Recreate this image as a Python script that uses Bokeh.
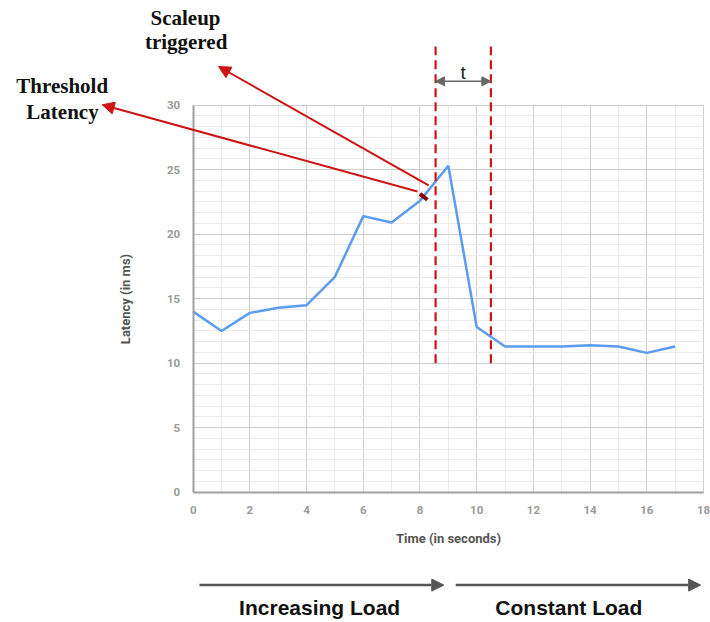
from bokeh.plotting import figure
from bokeh.models import (Range1d, SingleIntervalTicker, Arrow, NormalHead, Label)
from bokeh.embed import file_html
from bokeh.resources import INLINE

# Latency measured once per second while the load is ramped up, then held constant
time_s = list(range(18))
latency_ms = [14.0, 12.5, 13.9, 14.3, 14.5, 16.7, 21.4, 20.9, 22.6,
              25.3, 12.8, 11.3, 11.3, 11.3, 11.4, 11.3, 10.8, 11.3]

# Scale-up window (seconds) marked with dashed guides
scaleup_start = 8.55
scaleup_end = 10.5

x_bounds = (0, 18)
y_bounds = (0, 30)
x_ticks_step = 2
y_ticks_step = 5

RED = "#cc1414"
GREY = "#555555"

# The frame fills the whole canvas so the call-outs around the chart can be drawn
# in data space; the axes are pinned at 0 and bounded to the chart area.
p = figure(width=710, height=622, output_backend="svg", toolbar_location=None,
           x_range=Range1d(-6.797, 18.247), y_range=Range1d(-10.10, 38.116),
           min_border=0)
p.background_fill_color = "white"
p.border_fill_color = "white"
p.outline_line_color = None

# Axes
p.xaxis.ticker = SingleIntervalTicker(interval=x_ticks_step, num_minor_ticks=2)
p.yaxis.ticker = SingleIntervalTicker(interval=y_ticks_step, num_minor_ticks=6)
p.xaxis.fixed_location = 0
p.yaxis.fixed_location = 0
p.xaxis.bounds = x_bounds
p.yaxis.bounds = y_bounds
for ax in (p.xaxis[0], p.yaxis[0]):
    ax.axis_line_color = "#a0a0a0"
    ax.axis_line_width = 2
    ax.major_tick_line_color = None
    ax.minor_tick_line_color = None
    ax.major_label_text_font = "Roboto"
    ax.major_label_text_font_style = "bold"
    ax.major_label_text_font_size = "11.5px"
    ax.major_label_text_color = "#999999"
    ax.axis_label_text_font = "Roboto"
    ax.axis_label_text_font_style = "bold"
    ax.axis_label_text_font_size = "13px"
    ax.axis_label_text_color = "#555555"
p.xaxis.axis_label = "Time (in seconds)"
p.yaxis.axis_label = "Latency (in ms)"
p.xaxis.major_label_standoff = 8
p.yaxis.major_label_standoff = 7
p.xaxis.axis_label_standoff = 13
p.yaxis.axis_label_standoff = 31

# Grid: darker majors, faint minors, limited to the chart area
p.xgrid.bounds = x_bounds
p.xgrid.cross_bounds = y_bounds
p.ygrid.bounds = y_bounds
p.ygrid.cross_bounds = x_bounds
p.xgrid.grid_line_color = "#d0d0d0"
p.ygrid.grid_line_color = "#cccccc"
p.xgrid.minor_grid_line_color = "#ebebeb"
p.ygrid.minor_grid_line_color = "#ebebeb"

# Latency series
p.line(time_s, latency_ms, line_color="#5b9cf0", line_width=2.5)

# Scale-up window guides and the interval marker "t"
for xv in (scaleup_start, scaleup_end):
    p.add_layout(Arrow(end=None, x_start=xv, y_start=10, x_end=xv, y_end=34.55,
                       line_color=RED, line_width=2.2, line_dash="9 5"))
p.add_layout(Arrow(x_start=scaleup_start, y_start=31.85, x_end=scaleup_end, y_end=31.85,
                   start=NormalHead(size=9, fill_color="#666666", line_color="#666666"),
                   end=NormalHead(size=9, fill_color="#666666", line_color="#666666"),
                   line_color="#666666", line_width=1.5))
p.add_layout(Label(x=(scaleup_start + scaleup_end) / 2, y=32.55, text="t",
                   text_align="center", text_baseline="middle",
                   text_font="Liberation Sans", text_font_size="19px", text_color="#222222"))

# Call-out arrows
p.add_layout(Arrow(x_start=8.305, y_start=23.78, x_end=0.893, y_end=33.0,
                   end=NormalHead(size=12, fill_color=RED, line_color=RED),
                   line_color=RED, line_width=2))
p.add_layout(Arrow(x_start=7.91, y_start=23.31, x_end=-3.21, y_end=30.03,
                   end=NormalHead(size=12, fill_color=RED, line_color=RED),
                   line_color=RED, line_width=2))
p.segment(x0=[8.0], y0=[23.13], x1=[8.26], y1=[22.67], line_color="#8b0000", line_width=4)

serif = dict(text_font="Liberation Serif", text_font_style="bold",
             text_font_size="21px", text_color="#111111", text_align="center")
p.add_layout(Label(x=-0.27, y=35.85, text="Scaleup", **serif))
p.add_layout(Label(x=-0.25, y=33.95, text="triggered", **serif))
p.add_layout(Label(x=-4.62, y=30.55, text="Threshold", **serif))
p.add_layout(Label(x=-4.61, y=28.55, text="Latency", **serif))

# Load phases under the x axis
for x0, x1 in ((0.22, 8.84), (9.26, 17.9)):
    p.add_layout(Arrow(x_start=x0, y_start=-7.2, x_end=x1, y_end=-7.2,
                       end=NormalHead(size=12, fill_color=GREY, line_color=GREY),
                       line_color=GREY, line_width=2.5))
sans = dict(text_font="Liberation Sans", text_font_style="bold",
            text_font_size="21px", text_color="#111111", text_align="center")
p.add_layout(Label(x=4.46, y=-9.8, text="Increasing Load", **sans))
p.add_layout(Label(x=13.25, y=-9.8, text="Constant Load", **sans))

open("out.html", "w").write(file_html(p, INLINE))
